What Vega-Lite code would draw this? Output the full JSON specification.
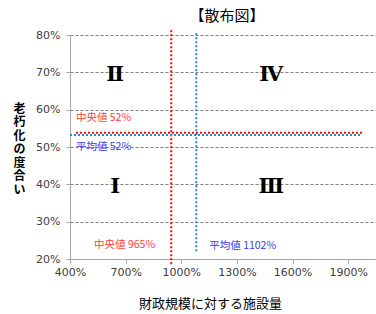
{
  "$schema": "https://vega.github.io/schema/vega-lite/v6.json",
  "width": 306,
  "height": 224,
  "autosize": "none",
  "padding": {"left": 70, "top": 35, "right": 0, "bottom": 55},
  "title": {"text": "【散布図】", "font": "Noto Sans CJK JP", "fontSize": 15, "fontWeight": "normal", "color": "#000000", "anchor": "middle", "offset": 5, "dx": 4},
  "config": {
    "view": {"stroke": null},
    "axis": {
      "domainColor": "#A6A6A6",
      "tickColor": "#A6A6A6",
      "tickSize": 4,
      "labelColor": "#404040",
      "labelFont": "DejaVu Sans",
      "labelFontSize": 11,
      "labelOverlap": false,
      "labelFlush": false,
      "titleFont": "Noto Sans CJK JP",
      "titleColor": "#000000"
    }
  },
  "datasets": {
    "lines": [
      {"series": "中央値", "x": 946, "x2": 946, "y": 81.3, "y2": 18.4},
      {"series": "平均値", "x": 1081, "x2": 1081, "y": 80.5, "y2": 21.6},
      {"series": "中央値", "x": 432, "x2": 1982, "y": 53.8, "y2": 53.8},
      {"series": "平均値", "x": 400, "x2": 1967, "y": 53.2, "y2": 53.2}
    ],
    "labels": [
      {"series": "中央値", "x": 432, "y": 57.7, "text": "中央値 52%"},
      {"series": "平均値", "x": 432, "y": 50.0, "text": "平均値 52%"},
      {"series": "中央値", "x": 530, "y": 23.8, "text": "中央値 965%"},
      {"series": "平均値", "x": 1151, "y": 23.5, "text": "平均値 1102%"}
    ],
    "quadrants": [
      {"x": 643, "y": 69.3, "label": "Ⅱ"},
      {"x": 1485, "y": 69.3, "label": "Ⅳ"},
      {"x": 643, "y": 39.2, "label": "Ⅰ"},
      {"x": 1485, "y": 39.2, "label": "Ⅲ"}
    ]
  },
  "encoding": {
    "x": {
      "field": "x", "type": "quantitative",
      "scale": {"domain": [400, 2050], "nice": false, "zero": false},
      "axis": {
        "values": [400, 700, 1000, 1300, 1600, 1900],
        "labelExpr": "datum.value + '%'",
        "grid": false,
        "labelPadding": 3,
        "title": "財政規模に対する施設量",
        "titleFontSize": 13,
        "titleFontWeight": "normal",
        "titleAlign": "center",
        "titleBaseline": "top",
        "titleX": 140,
        "titleY": 38
      }
    },
    "y": {
      "field": "y", "type": "quantitative",
      "scale": {"domain": [20, 80], "nice": false, "zero": false},
      "axis": {
        "values": [20, 30, 40, 50, 60, 70, 80],
        "labelExpr": "datum.value + '%'",
        "labelOverlap": false,
        "grid": true,
        "gridColor": "#7F7F7F",
        "gridDash": [3, 2],
        "gridWidth": 1,
        "labelPadding": 6,
        "title": ["老", "朽", "化", "の", "度", "合", "い"],
        "titleAngle": 0,
        "titleFontSize": 12,
        "titleFontWeight": "bold",
        "titleLineHeight": 13.5,
        "titleAlign": "center",
        "titleBaseline": "top",
        "titleX": -51,
        "titleY": 68
      }
    }
  },
  "layer": [
    {
      "data": {"name": "quadrants"},
      "mark": {"type": "text", "font": "DejaVu Serif", "fontSize": 21, "fontWeight": "bold", "color": "#000000", "align": "center", "baseline": "middle"},
      "encoding": {
        "text": {"field": "label"}
      }
    },
    {
      "data": {"name": "lines"},
      "mark": {"type": "rule", "strokeWidth": 2, "strokeDash": [2, 2], "clip": false},
      "encoding": {
        "x2": {"field": "x2"},
        "y2": {"field": "y2"},
        "color": {"field": "series", "type": "nominal", "scale": {"domain": ["中央値", "平均値"], "range": ["#FF0000", "#2E86D1"]}, "legend": null}
      }
    },
    {
      "data": {"name": "labels"},
      "mark": {"type": "text", "font": "Noto Sans CJK JP", "fontSize": 10.5, "align": "left", "baseline": "middle"},
      "encoding": {
        "text": {"field": "text"},
        "color": {"field": "series", "type": "nominal", "scale": {"domain": ["中央値", "平均値"], "range": ["#FF3B3B", "#3A3AF5"]}, "legend": null}
      }
    }
  ],
  "resolve": {"scale": {"color": "independent"}}
}
